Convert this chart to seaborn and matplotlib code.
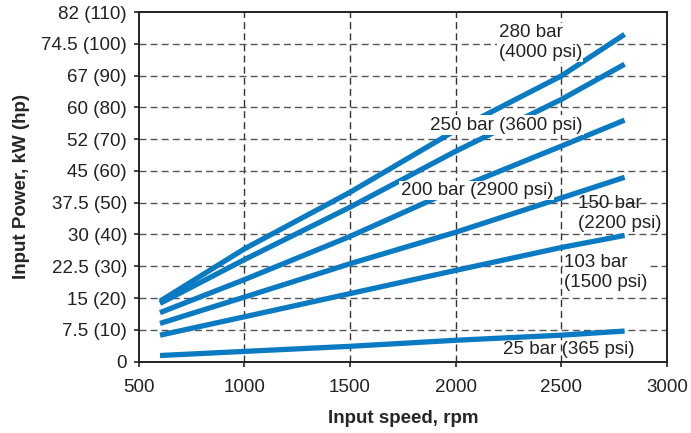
import matplotlib
matplotlib.use("Agg")
import matplotlib.pyplot as plt
import seaborn as sns
import pandas as pd

# input speed (rpm) and input power, in hp (the axis scale)
rpm = [600, 1000, 1500, 2000, 2500, 2800]
hp_280 = [19.0, 35.5, 53.3, 72.8, 89.9, 103.0]
hp_250 = [18.3, 32.1, 48.6, 66.2, 82.5, 93.6]
hp_200 = [15.4, 25.8, 39.4, 54.3, 67.8, 76.0]
hp_150 = [12.0, 20.3, 30.8, 40.7, 51.5, 58.0]
hp_103 = [8.3, 14.1, 21.4, 28.7, 35.9, 39.7]
hp_25 = [1.9, 3.2, 4.8, 6.7, 8.3, 9.6]

pressures = ["280 bar", "250 bar", "200 bar", "150 bar", "103 bar", "25 bar"]
series = [hp_280, hp_250, hp_200, hp_150, hp_103, hp_25]

y_ticks = [0, 10, 20, 30, 40, 50, 60, 70, 80, 90, 100, 110]
y_labels = ["0", "7.5 (10)", "15 (20)", "22.5 (30)", "30 (40)", "37.5 (50)",
            "45 (60)", "52 (70)", "60 (80)", "67 (90)", "74.5 (100)", "82 (110)"]
x_ticks = [500, 1000, 1500, 2000, 2500, 3000]

# curve labels: text, x (rpm), y (hp), white box behind?
labels = [
    ("280 bar\n(4000 psi)", 2203, 100.5, True),
    ("250 bar (3600 psi)", 1880, 74.4, True),
    ("200 bar (2900 psi)", 1739, 53.8, True),
    ("150 bar\n(2200 psi)", 2580, 46.6, False),
    ("103 bar\n(1500 psi)", 2514, 28.1, True),
    ("25 bar (365 psi)", 2224, 3.7, False),
]

df = pd.DataFrame({
    "rpm": rpm * len(series),
    "hp": [v for s in series for v in s],
    "pressure": [p for p in pressures for _ in rpm],
})

sns.set_style("ticks")
plt.rcParams["font.family"] = ["Liberation Sans", "DejaVu Sans"]

blue = "#0a7bc2"
fs = 13.5
fig = plt.figure(figsize=(6.91, 4.33), dpi=100)
ax = fig.add_axes([0.201, 0.165, 0.764, 0.807])

sns.lineplot(data=df, x="rpm", y="hp", hue="pressure", units="pressure",
             estimator=None, palette=[blue] * len(pressures), linewidth=3.8,
             legend=False, ax=ax, zorder=3, solid_capstyle="butt")

ax.set_xlim(500, 3000)
ax.set_ylim(0, 110)
ax.set_xticks(x_ticks)
ax.set_xticklabels([str(t) for t in x_ticks], fontsize=fs, color="#222222")
ax.set_yticks(y_ticks)
ax.set_yticklabels(y_labels, fontsize=fs, color="#222222")
ax.tick_params(direction="out", length=3.5, width=1.2, color="#222222")
ax.tick_params(axis="x", pad=9)
ax.tick_params(axis="y", pad=5)

for t in x_ticks[1:-1]:
    ax.axvline(t, color="#333333", lw=1, ls=(0, (5, 3)), zorder=1)
for t in y_ticks[1:-1]:
    ax.axhline(t, color="#555555", lw=1, ls=(0, (5, 3)), zorder=1)

for s in ax.spines.values():
    s.set_visible(True)
    s.set_color("#222222")
    s.set_linewidth(1.4)

for text, x, y, boxed in labels:
    kw = dict(ha="left", va="center", fontsize=fs, color="#222222", zorder=5,
              linespacing=1.2)
    if boxed:
        kw["bbox"] = dict(fc="white", ec="none", pad=1)
    ax.text(x, y, text, **kw)

ax.set_xlabel("Input speed, rpm", fontsize=fs, fontweight="bold", labelpad=10)
ax.set_ylabel("Input Power, kW (hp)", fontsize=fs, fontweight="bold", labelpad=8)

fig.savefig("out.png", dpi=100)
